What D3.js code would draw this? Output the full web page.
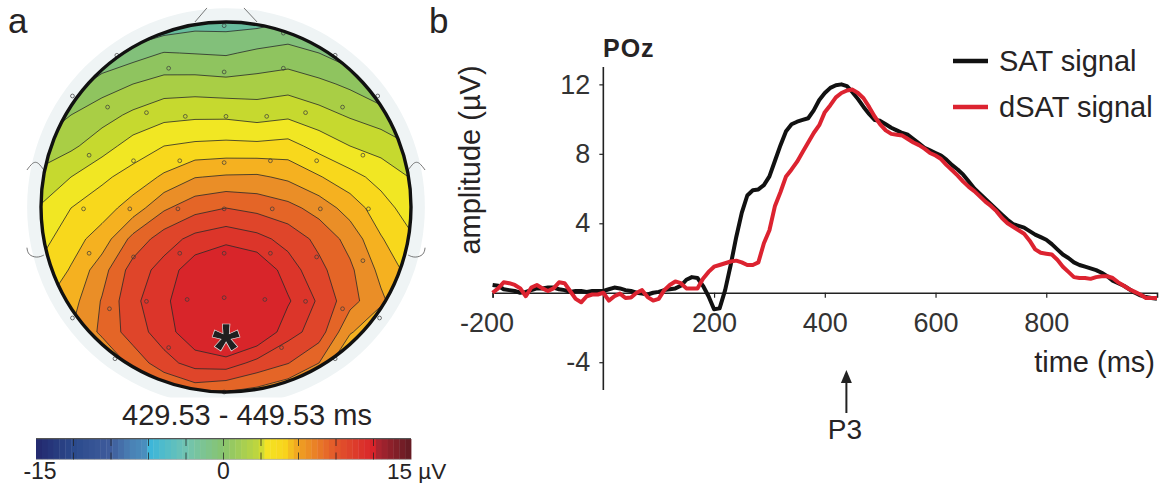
<!DOCTYPE html>
<html><head><meta charset="utf-8">
<style>html,body{margin:0;background:#fff}svg{display:block}text{font-family:"Liberation Sans",Arial,sans-serif;fill:#262324}</style>
<script src="https://cdn.jsdelivr.net/npm/d3@7/dist/d3.min.js"></script></head><body>
<svg id="c" width="1163" height="483"></svg>
<script>
// ---------- panel b: event related potentials at POz ----------
const timeMs = d3.range(-200, 1001, 10);
const satSignal = [.45,.4,.2,.15,.1,0,.05,.15,.25,.25,.3,.3,.2,.15,.05,.1,.1,.05,.1,.1,
 .1,.2,.3,.25,.15,.1,0,-.05,-.1,0,.05,.15,.2,.25,.4,.75,.9,.85,.4,-.2,
 -.95,-.9,.15,1.6,3.2,4.6,5.6,5.9,5.95,6.2,6.7,7.6,8.5,9.3,9.7,9.85,9.95,10.05,10.5,11.1,
 11.5,11.8,11.95,12,11.9,11.55,11.15,10.7,10.3,9.95,9.9,9.7,9.5,9.35,9.2,9.1,8.85,8.6,8.35,8.2,
 8.05,7.9,7.65,7.35,7.1,6.8,6.4,6,5.7,5.4,5.1,4.8,4.5,4.2,3.95,3.85,3.75,3.55,3.35,3.2,
 3.05,2.8,2.5,2.2,2,1.75,1.6,1.5,1.4,1.3,1.15,.95,.7,.55,.4,.2,0,-.15,-.25,-.3,-.35];
const dsatSignal = [0,.25,.6,.55,.45,.25,-.2,.3,.45,.25,.1,.25,.6,.55,.1,-.35,-.55,-.2,-.1,-.1,
 0,-.45,-.2,-.05,-.3,-.28,0,.15,-.25,-.45,-.35,.15,.45,.65,.55,.25,.25,.25,.8,1.2,
 1.5,1.6,1.7,1.8,1.85,1.75,1.6,1.6,1.75,2.85,3.6,5,5.8,6.7,7.1,7.55,8.1,8.65,9.2,9.65,
 10.4,10.8,11.25,11.5,11.65,11.7,11.5,11.2,10.7,10.15,9.7,9.35,9.15,9.1,9.05,8.85,8.65,8.5,8.3,8.05,
 7.9,7.7,7.35,7.05,6.75,6.4,6.1,5.85,5.55,5.25,5,4.7,4.3,4,3.8,3.6,3.4,3,2.5,2.3,
 2.25,2.2,1.9,1.5,1.2,.9,.85,.85,.8,.9,.95,.95,.85,.6,.4,.2,.05,-.1,-.3,-.3,-.3];
const xTickValues = [-200,200,400,600,800];
const yTickValues = [-4,4,8,12];
const legendLabels = ["SAT signal","dSAT signal"];
const legendColors = ["#111111","#dc2330"];

// ---------- panel a: scalp map ----------
// potential in µV on a regular scalp grid (rows front to back, columns left to right)
const scalpField = [
 [-9,-6.5,-4.6,-3.4,-2.5,-2,-2,-1.9,-1.5,-2.8,-5.3,-7.8,-10.3],
 [-6.5,-3.4,-1.5,-.8,-.2,-.3,-.4,0,.25,-.25,-1.1,-4,-6.5],
 [-3.4,-.9,.4,1,1.5,1.55,1.4,1.5,1.7,1.3,.75,-.25,-2.75],
 [-.9,1,1.75,2.5,3.1,3.25,3.25,3,3.25,2.7,2.1,1.6,.4],
 [1.5,2,2.95,4.05,4.75,5,5.1,5.05,5.2,4.3,3.5,3,2.25],
 [2.6,3.5,4.5,5.25,6.2,7.2,7.4,7.45,7,6.1,5.2,4.3,3.4],
 [3.6,4.75,5.45,6.55,8.3,9.3,9.75,9.4,8.9,8,6.7,5.3,4.1],
 [4.25,5.5,6.55,8.9,10.4,11.4,11.85,11.4,10.55,9.4,8.05,6.1,4.9],
 [5,6.1,8,10.3,11.5,13.05,14,13.4,11.65,10.1,8.75,6.9,5.5],
 [5.75,6.75,8.6,10.7,11.9,13.6,14.2,13.6,12.4,10.8,8.95,7.5,6],
 [5.4,7.25,8.75,10.4,11.6,13.3,14.5,13.6,11.5,10.4,7.4,6,4.75],
 [2.25,5.4,7.25,8.9,10.55,11.5,11.7,10.6,9.8,8.5,5.4,3.5,2.25],
 [-.25,2.25,4.75,6.6,7.9,8.75,8.25,7.9,7.25,5.4,2.9,1,-.25]
];
const contourLevels = [-1.5,-.25,1,2.25,3.5,4.75,6,7.25,8.5,9.75,11,12.25];
const bandColors = ["#67bc9c","#82c07a","#8fc45f","#a9ce45","#c6d92f","#f1e723","#f8d81c","#f5b120","#ea8e27","#e46527","#df452a","#dc352a","#d8252a"];
// electrode sites in head units (-1..1)
const electrodeX = [-.01,.31,-.31,-.01,.31,.59,-.59,-.83,.82,-.64,-.43,-.22,0,.22,.43,.63,-.74,-.50,-.25,-.01,.24,.49,.74,-.77,-.52,-.26,-.01,.25,.51,.77,-.74,-.50,-.25,-.01,.24,.49,.74,-.63,-.43,-.21,-.01,.21,.43,.63,-.83,.83,-.31,.30,-.60,.59,-.01];
const electrodeY = [-.98,-.94,-.75,-.73,-.75,-.82,-.82,-.60,-.60,-.54,-.51,-.49,-.49,-.49,-.51,-.54,-.28,-.25,-.25,-.24,-.25,-.25,-.28,.01,.01,.01,.01,.01,.01,.01,.25,.27,.25,.25,.25,.27,.29,.55,.51,.50,.49,.50,.51,.55,.60,.60,.76,.76,.82,.82,1.0];
const noseX=[-.168,-.103], noseRightX=[.168,.097], noseY=[-1,-1.076];
const earUpperX=[-1.076,-1.05,-1.03,-1.01,-.985];
const earUpperY=[-.2,-.235,-.245,-.235,-.2];
const earLowerX=[-1.076,-1.07,-1.02,-.985];
const earLowerY=[.22,.26,.276,.26];
// colour bar: stops of the colour map
const barValues = [-15,-12,-9,-7.5,-6.2,-5.9,-2.9,0,3,3.2,4.9,6,9,12,12.2,15];
const barColors = ["#23286e","#2b4a8c","#3f5c9c","#4a80b4","#4a8fbe","#3cb6da","#72c4b0","#88c46e","#c4d838","#f3e624","#f8d41c","#f0a322","#e2552b","#d8232b","#b02530","#5f1a22"];
const barTickValues = [-15,-12,-9,-6,-3,0,3,6,9,12,15];
const barLabelValues = [-15,0];
const timeWindow = "429.53 - 449.53 ms";

const svg = d3.select("#c");

// -------- scalp map drawing --------
const hx = d3.scaleLinear([-1,1],[41,411]), hy = d3.scaleLinear([-1,1],[22,392]);
const gx = d3.scaleLinear([.5,12.5],[40,412]), gy = d3.scaleLinear([.5,12.5],[22,394]);
const defs = svg.append("defs");
defs.append("clipPath").attr("id","head").append("circle").attr("cx",hx(0)).attr("cy",hy(0)).attr("r",hx(1)-hx(0));
defs.append("clipPath").attr("id","halo").append("rect").attr("x",0).attr("y",hy(-1.076)).attr("width",460).attr("height",hy(1.03)-hy(-1.076));
svg.append("circle").attr("clip-path","url(#halo)").attr("cx",hx(0)).attr("cy",hy(0)).attr("r",hx(1.075)-hx(0)).attr("fill","#eff4f5");

const line = d3.line().x(d=>hx(d[0])).y(d=>hy(d[1]));
const wire = (xs,ys,curve,flip)=>svg.append("path").attr("fill","none").attr("stroke","#555").attr("stroke-width",.8)
  .attr("d",line.curve(curve)(xs.map((x,i)=>[flip?-x:x,ys[i]])));
wire(noseX,noseY,d3.curveLinear); wire(noseRightX,noseY,d3.curveLinear);
for (const f of [false,true]) {
  wire(earUpperX,earUpperY,d3.curveBasis,f);
  wire(earLowerX,earLowerY,d3.curveBasis,f);
}
const field = scalpField.flat();
const contours = d3.contours().size([13,13]).thresholds(contourLevels)(field);
const gpath = d3.geoPath(d3.geoTransform({point(x,y){this.stream.point(gx(x),gy(y));}}));
const map = svg.append("g").attr("clip-path","url(#head)");
map.append("rect").attr("x",hx(-1)).attr("y",hy(-1)).attr("width",hx(1)-hx(-1)).attr("height",hy(1)-hy(-1)).attr("fill",bandColors[0]);
map.selectAll("path.band").data(contours).join("path").attr("class","band").attr("d",gpath)
  .attr("fill",(d,i)=>bandColors[i+1]).attr("stroke","#2a2a2a").attr("stroke-width",.8).attr("stroke-linejoin","round");
svg.selectAll("circle.el").data(electrodeX).join("circle").attr("class","el")
  .attr("cx",d=>hx(d)).attr("cy",(d,i)=>hy(electrodeY[i])).attr("r",1.9).attr("fill","none").attr("stroke","#3a3a3a").attr("stroke-width",.7);
svg.append("circle").attr("cx",hx(0)).attr("cy",hy(0)).attr("r",hx(1)-hx(0)).attr("fill","none").attr("stroke","#111").attr("stroke-width",3.4);
svg.append("text").attr("x",hx(0)).attr("y",hy(.72)+34).attr("text-anchor","middle").attr("font-size",72).attr("font-weight",700)
  .attr("stroke","#ddd").attr("stroke-width",.7).style("fill","#1f1f1f").text("*");

svg.append("text").attr("x",247).attr("y",425).attr("text-anchor","middle").attr("font-size",29).text(timeWindow);

// colour bar
const barX = d3.scaleLinear([-15,15],[36,411]);
const barColor = d3.scaleLinear(barValues,barColors);
const cells = d3.range(-15,15,30/64);
svg.selectAll("rect.cell").data(cells).join("rect").attr("class","cell")
  .attr("x",d=>barX(d)).attr("y",439).attr("width",barX(30/64)-barX(0)+.4).attr("height",20.5)
  .attr("fill",d=>barColor(d+15/64));
svg.append("line").attr("x1",36).attr("x2",411).attr("y1",438.6).attr("y2",438.6).attr("stroke","#555").attr("stroke-width",1.2);
svg.append("line").attr("x1",36).attr("x2",411).attr("y1",459.4).attr("y2",459.4).attr("stroke","#aaa").attr("stroke-width",.8);
svg.selectAll("line.bt").data(barTickValues.slice(1,-1)).join("line").attr("class","bt")
  .attr("x1",d=>barX(d)).attr("x2",d=>barX(d)).attr("y1",439).attr("y2",459.5)
  .attr("stroke","#222").attr("stroke-opacity",.75).attr("stroke-width",1).attr("stroke-dasharray","7 6.5 8");
svg.selectAll("text.bl").data(barLabelValues).join("text").attr("class","bl").attr("x",d=>barX(d)+(d==0?0:4)).attr("y",479)
  .attr("text-anchor","middle").attr("font-size",23).text(d=>d);
svg.append("text").attr("x",387).attr("y",479).attr("font-size",22.5).text("15 µV");

svg.append("text").attr("x",8).attr("y",33).attr("font-size",35).text("a");
svg.append("text").attr("x",429).attr("y",33).attr("font-size",35).text("b");

// -------- ERP drawing --------
const x = d3.scaleLinear([-200,1000],[492.6,1157]);
const y = d3.scaleLinear([-5.6,13],[390,67]);
const fmt = d => String(d);
const xAxis = svg.append("g").attr("transform",`translate(0,${y(0)})`)
  .call(d3.axisBottom(x).tickValues(xTickValues).tickSize(5).tickPadding(15).tickFormat(fmt));
const yAxis = svg.append("g").attr("transform",`translate(${x(0)},0)`)
  .call(d3.axisLeft(y).tickValues(yTickValues).tickSize(4).tickPadding(9).tickFormat(fmt));
for (const a of [xAxis,yAxis]) {
  a.selectAll("text").attr("font-size",27).style("font-family",'"Liberation Sans",Arial,sans-serif').style("fill","#333");
  a.selectAll("line").attr("stroke","#222").attr("stroke-width",1.2);
  a.select(".domain").attr("stroke","#222").attr("stroke-width",1.6);
}
xAxis.selectAll("text").filter(d=>d===-200).attr("dx",-6);
yAxis.select(".domain").attr("d",`M0,${y(13)}V${y(-5.6)}`);
const series = d3.line().x((d,i)=>x(timeMs[i])).y(d=>y(d));
[satSignal,dsatSignal].forEach((s,i)=>svg.append("path").attr("d",series(s)).attr("fill","none")
  .attr("stroke",legendColors[i]).attr("stroke-width",4).attr("stroke-linejoin","round"));

svg.append("text").attr("x",603).attr("y",57).attr("font-size",25).attr("font-weight",700).attr("letter-spacing",1).text("POz");
svg.append("text").attr("transform","translate(480,160) rotate(-90)").attr("text-anchor","middle").attr("font-size",29).text("amplitude (µV)");
svg.append("text").attr("x",1155).attr("y",372).attr("text-anchor","end").attr("font-size",29).text("time (ms)");
legendLabels.forEach((l,i)=>{
  const ly = 61+i*46;
  svg.append("line").attr("x1",953).attr("x2",988).attr("y1",ly).attr("y2",ly).attr("stroke",legendColors[i]).attr("stroke-width",4.5);
  svg.append("text").attr("x",999).attr("y",ly+10).attr("font-size",29).text(l);
});
// P3 arrow
const ax = x(439);
svg.append("line").attr("x1",ax).attr("x2",ax).attr("y1",413).attr("y2",376).attr("stroke","#222").attr("stroke-width",2);
svg.append("path").attr("d",d3.line()([[ax-5.5,383],[ax,370],[ax+5.5,383]])+"Z").attr("fill","#222");
svg.append("text").attr("x",ax-1.5).attr("y",439).attr("text-anchor","middle").attr("font-size",28).text("P3");
</script></body></html>
